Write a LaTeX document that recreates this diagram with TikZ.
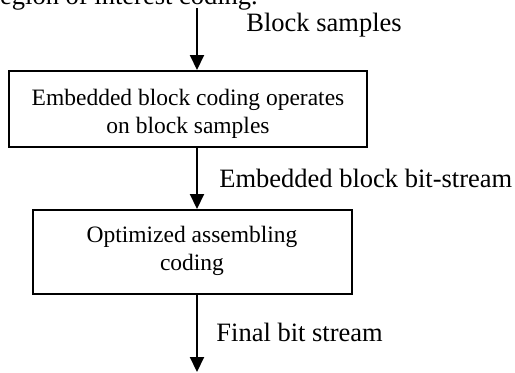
\documentclass[tikz,border=0pt]{standalone}
\usepackage{fontspec}
\setmainfont{Liberation Serif}
\usetikzlibrary{arrows.meta}
\begin{document}
\begin{tikzpicture}[x=0.5pt, y=-0.5pt,
  every node/.style={font=\fontsize{13.25}{14}\selectfont, inner sep=0pt},
  procbox/.style={draw, line width=1pt},
  boxtext/.style={align=center, font=\fontsize{11.75}{14}\selectfont},
  flow/.style={line width=1pt, -{Triangle[length=7.5pt, width=7pt]}},
  lbl/.style={anchor=west}]
  \useasboundingbox (0,0) rectangle (515,372);

  % trailing line of the preceding caption text
  \node[anchor=base west] (prev) at (-9,4) {region of interest coding.};

  % processing stages: frames and their captions
  \node[procbox, minimum width=179pt, minimum height=38pt] (ebc) at (188,109) {};
  \node[boxtext] (ebctext) at (188,113.5)
    {Embedded block coding operates\\on block samples};
  \node[procbox, minimum width=159.5pt, minimum height=42pt] (oac) at (192.5,252) {};
  \node[boxtext] (oactext) at (192,251)
    {Optimized assembling\\coding};

  % vertical flow axis
  \coordinate (src) at (197,8);
  \coordinate (sink) at (197,372);

  \draw[flow] (src) -- (src |- ebc.north);
  \draw[flow] (src |- ebc.south) -- (src |- oac.north);
  \draw[flow] (src |- oac.south) -- (sink);

  % connector labels
  \node[lbl] (l1) at (246,25) {Block samples};
  \node[lbl] (l2) at (219,178) {Embedded block bit-stream};
  \node[lbl] (l3) at (216,332) {Final bit stream};
\end{tikzpicture}
\end{document}
